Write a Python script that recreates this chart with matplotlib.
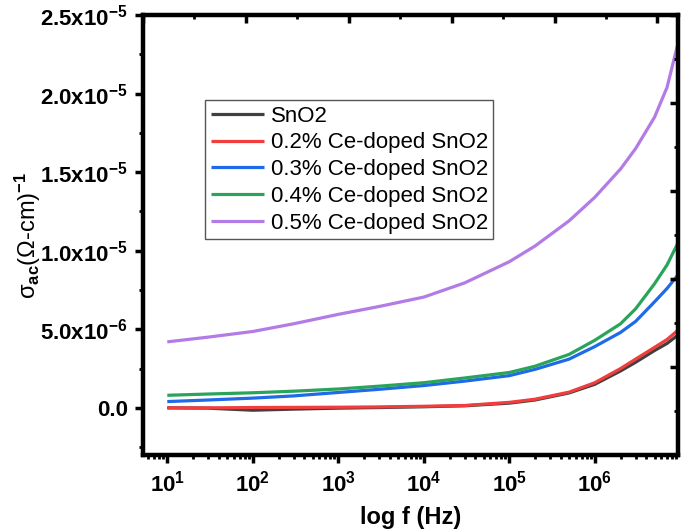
import matplotlib
matplotlib.use("Agg")
import matplotlib.pyplot as plt
from matplotlib.ticker import FixedLocator, FixedFormatter, LogLocator, NullFormatter, MultipleLocator

plt.rcParams['font.family'] = ['Liberation Sans', 'DejaVu Sans']
plt.rcParams['mathtext.fontset'] = 'custom'
plt.rcParams['mathtext.rm'] = 'Liberation Sans:bold'
plt.rcParams['mathtext.it'] = 'Liberation Sans:bold'
plt.rcParams['mathtext.bf'] = 'Liberation Sans:bold'
plt.rcParams['mathtext.sf'] = 'Liberation Sans'
plt.rcParams['mathtext.default'] = 'rm'

# ---- data ----
freq = [10, 30, 100, 300, 1e3, 3e3, 1e4, 3e4, 1e5, 2e5, 5e5, 1e6, 2e6, 3e6, 5e6, 7e6, 9.2e6]
labels = ["SnO2", "0.2% Ce-doped SnO2", "0.3% Ce-doped SnO2",
          "0.4% Ce-doped SnO2", "0.5% Ce-doped SnO2"]
colors = ["#404040", "#f23d3d", "#1e6ae8", "#2aa45a", "#b27be6"]
# sigma_ac in units of 1e-6 (Ohm-cm)^-1
sno2   = [0.0, -0.02, -0.15, -0.08, -0.02, 0.02, 0.07, 0.13, 0.30, 0.50, 0.95, 1.50, 2.35, 2.90, 3.65, 4.10, 4.60]
ce02   = [0.0, 0.0, 0.02, 0.03, 0.04, 0.06, 0.10, 0.15, 0.35, 0.55, 1.00, 1.60, 2.50, 3.10, 3.85, 4.35, 4.90]
ce03   = [0.40, 0.50, 0.62, 0.76, 0.98, 1.18, 1.42, 1.70, 2.05, 2.45, 3.10, 3.90, 4.80, 5.50, 6.75, 7.60, 8.40]
ce04   = [0.80, 0.88, 0.96, 1.06, 1.20, 1.38, 1.60, 1.90, 2.25, 2.65, 3.40, 4.30, 5.35, 6.30, 7.90, 9.10, 10.4]
ce05   = [4.2, 4.5, 4.86, 5.35, 5.95, 6.45, 7.05, 7.95, 9.3, 10.3, 11.9, 13.4, 15.2, 16.5, 18.5, 20.4, 23.0]
series = [sno2, ce02, ce03, ce04, ce05]

ytick_vals = [0.0, 5e-6, 1e-5, 1.5e-5, 2e-5, 2.5e-5]
ytick_labels = ["0.0", r"5.0x10$^{-6}$", r"1.0x10$^{-5}$", r"1.5x10$^{-5}$",
                r"2.0x10$^{-5}$", r"2.5x10$^{-5}$"]
xtick_vals = [1e1, 1e2, 1e3, 1e4, 1e5, 1e6]
xtick_labels = [r"10$^{1}$", r"10$^{2}$", r"10$^{3}$", r"10$^{4}$", r"10$^{5}$", r"10$^{6}$"]

fig = plt.figure(figsize=(6.85, 5.32), dpi=100)
ax = fig.add_axes([143/685, 1-455/532, (678-143)/685, (455-15)/532])

for vals, lab, col in zip(series, labels, colors):
    ax.plot(freq, [v*1e-6 for v in vals], color=col, lw=2.3, label=lab,
            solid_capstyle='butt', solid_joinstyle='round')

ax.set_xscale('log')
ax.set_xlim(10**0.716, 10**6.973)
ax.set_ylim(-3.0e-6, 2.5e-5)

ax.xaxis.set_major_locator(FixedLocator(xtick_vals))
ax.xaxis.set_major_formatter(FixedFormatter(xtick_labels))
ax.xaxis.set_minor_locator(LogLocator(base=10, subs=range(2, 10), numticks=20))
ax.xaxis.set_minor_formatter(NullFormatter())
ax.yaxis.set_major_locator(FixedLocator(ytick_vals))
ax.yaxis.set_major_formatter(FixedFormatter(ytick_labels))
ax.yaxis.set_minor_locator(MultipleLocator(2.5e-6))

for sp in ax.spines.values():
    sp.set_linewidth(3)
ax.tick_params(which='major', direction='out', length=6, width=2.5,
               labelsize=16, pad=5, top=False, right=False)
ax.tick_params(which='minor', direction='out', length=3, width=2,
               top=False, right=False)
for t in ax.get_xticklabels() + ax.get_yticklabels():
    t.set_fontweight('bold')

ax.set_xlabel("log f (Hz)", fontsize=17, fontweight='bold', labelpad=7)
ax.set_ylabel(r"$\mathsf{\sigma}_{ac}$(Ω-cm)$^{-1}$", fontsize=17, labelpad=-2)

# top (linear) and right axes with inward ticks, no labels
axt = ax.twiny()
axt.set_xlim(0, 5.2)
axt.xaxis.set_major_locator(MultipleLocator(1))
axt.xaxis.set_minor_locator(MultipleLocator(0.5))
axt.tick_params(axis='x', which='major', direction='in', length=6, width=2.5, labeltop=False)
axt.tick_params(axis='x', which='minor', direction='in', length=3, width=2)
axr = ax.twinx()
axr.set_ylim(0, 5)
axr.yaxis.set_major_locator(MultipleLocator(1))
axr.yaxis.set_minor_locator(MultipleLocator(0.5))
axr.tick_params(axis='y', which='major', direction='in', length=6, width=2.5, labelright=False)
axr.tick_params(axis='y', which='minor', direction='in', length=3, width=2)
for a in (axt, axr):
    for sp in a.spines.values():
        sp.set_linewidth(3)

leg = ax.legend(loc='upper left', bbox_to_anchor=(205/685, 1-100/532),
                bbox_transform=fig.transFigure, fontsize=16, frameon=True,
                fancybox=False, edgecolor='#555555', framealpha=1,
                handlelength=2.4, handletextpad=0.3, labelspacing=0.26,
                borderpad=0.25, borderaxespad=0)
leg.get_frame().set_linewidth(1.0)
leg.set_zorder(10)

fig.savefig("out.png", dpi=100)
